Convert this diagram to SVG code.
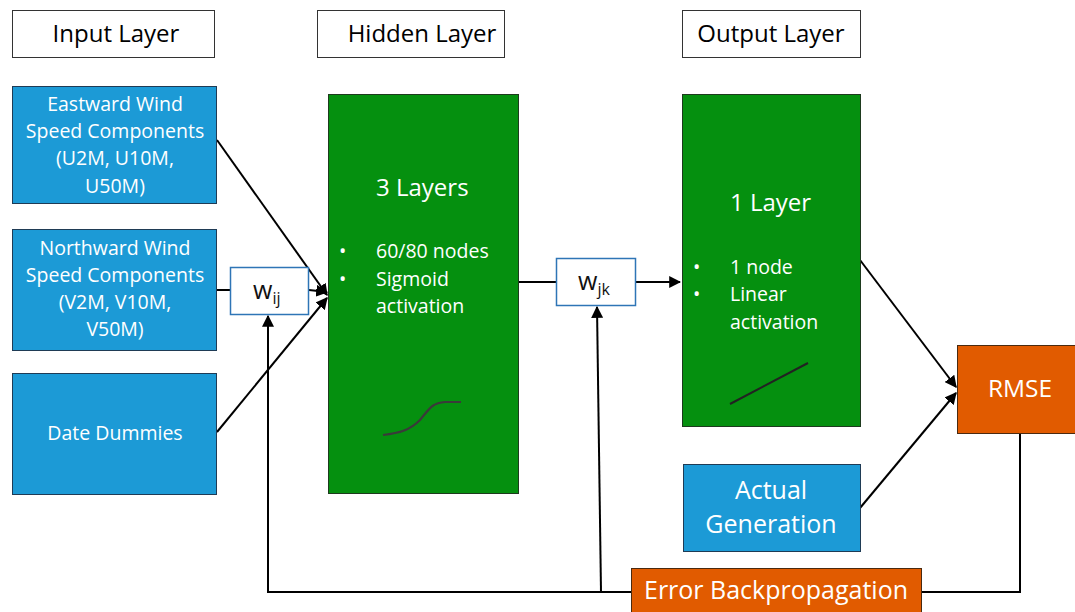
<svg xmlns="http://www.w3.org/2000/svg" width="1075" height="612" viewBox="0 0 1075 612">
<defs>
<style>
.hdr{fill:#fff;stroke:#333;stroke-width:1}
.hdrt{font-family:"Open Sans","Noto Sans",sans-serif;font-size:24px;fill:#000;text-anchor:middle}
.blue{fill:#1c9ad6;stroke:#1f3b55;stroke-width:1}
.green{fill:#05900f;stroke:#1e3a1e;stroke-width:1}
.orange{fill:#e15b00;stroke:#4a2a10;stroke-width:1}
.wt{font-family:"Open Sans","Noto Sans",sans-serif;fill:#fff}
.w{fill:#fff;stroke:#2e75b6;stroke-width:1.5}
.wl{font-family:"Open Sans","Noto Sans",sans-serif;fill:#111}
.c{stroke:#000;stroke-width:2;fill:none}
</style>
<marker id="ah" viewBox="0 0 10 10" refX="9" refY="5" markerWidth="6" markerHeight="6" orient="auto-start-reverse" markerUnits="strokeWidth">
<path d="M0,0 L10,5 L0,10 z" fill="#000"/>
</marker>
</defs>
<rect width="1075" height="612" fill="#fff"/>

<g id="hdr-input"><rect class="hdr" x="12.5" y="10.5" width="202" height="47"/><text class="hdrt" x="116" y="42">Input Layer</text></g>
<g id="hdr-hidden"><rect class="hdr" x="317.5" y="10.5" width="187" height="47"/><text class="hdrt" x="422" y="42">Hidden Layer</text></g>
<g id="hdr-output"><rect class="hdr" x="682.5" y="10.5" width="178" height="47"/><text class="hdrt" x="771" y="42">Output Layer</text></g>

<g id="connectors">
<line class="c" x1="217" y1="140" x2="327" y2="295" marker-end="url(#ah)"/>
<line class="c" x1="217" y1="290" x2="230" y2="290"/>
<line class="c" x1="309" y1="290" x2="327" y2="292" marker-end="url(#ah)"/>
<line class="c" x1="217" y1="432" x2="327" y2="298" marker-end="url(#ah)"/>
<line class="c" x1="519" y1="282" x2="556" y2="282"/>
<line class="c" x1="636" y1="282" x2="680" y2="282" marker-end="url(#ah)"/>
<line class="c" x1="860" y1="260" x2="956" y2="387" marker-end="url(#ah)"/>
<line class="c" x1="860" y1="508" x2="956" y2="393" marker-end="url(#ah)"/>
<polyline class="c" points="1020,433 1020,592 268,592 268,316" marker-end="url(#ah)"/>
<line class="c" x1="601" y1="592" x2="597" y2="307" marker-end="url(#ah)"/>
</g>

<g id="in-east"><rect class="blue" x="12.5" y="86.5" width="204" height="117"/>
<text class="wt" font-size="19.5" text-anchor="middle"><tspan x="115" y="111">Eastward Wind</tspan><tspan x="115" y="138">Speed Components</tspan><tspan x="115" y="165">(U2M, U10M,</tspan><tspan x="115" y="193">U50M)</tspan></text></g>
<g id="in-north"><rect class="blue" x="12.5" y="229.5" width="204" height="121"/>
<text class="wt" font-size="19.5" text-anchor="middle"><tspan x="115" y="255">Northward Wind</tspan><tspan x="115" y="282">Speed Components</tspan><tspan x="115" y="309">(V2M, V10M,</tspan><tspan x="115" y="336">V50M)</tspan></text></g>
<g id="in-date"><rect class="blue" x="12.5" y="373.5" width="204" height="121"/>
<text class="wt" font-size="19.5" text-anchor="middle" x="115" y="440">Date Dummies</text></g>

<g id="wij"><rect class="w" x="230.5" y="267.5" width="78" height="47"/>
<text class="wl" font-size="25" x="253" y="299">w<tspan font-size="16" dy="5">ij</tspan></text></g>

<g id="hidden"><rect class="green" x="328.5" y="94.5" width="190" height="399"/>
<text class="wt" font-size="24" x="376" y="196">3 Layers</text>
<text class="wt" font-size="19.5"><tspan x="339" y="258">•</tspan><tspan x="376" y="258">60/80 nodes</tspan><tspan x="339" y="286">•</tspan><tspan x="376" y="286">Sigmoid</tspan><tspan x="376" y="313">activation</tspan></text>
<path d="M383,435 C400,433 410,430 420,420 C430,408 432,403 445,402 L461,402" stroke="#3a3a3a" stroke-width="2.2" fill="none"/></g>

<g id="wjk"><rect class="w" x="556.5" y="258.5" width="79" height="47"/>
<text class="wl" font-size="25" x="578" y="290">w<tspan font-size="16" dy="5">jk</tspan></text></g>

<g id="output"><rect class="green" x="682.5" y="94.5" width="178" height="332"/>
<text class="wt" font-size="24" x="730" y="211">1 Layer</text>
<text class="wt" font-size="19.5"><tspan x="693" y="274">•</tspan><tspan x="730" y="274">1 node</tspan><tspan x="693" y="301">•</tspan><tspan x="730" y="301">Linear</tspan><tspan x="730" y="329">activation</tspan></text>
<line x1="730" y1="404" x2="808" y2="363" stroke="#222" stroke-width="2"/></g>

<g id="actual"><rect class="blue" x="683.5" y="464.5" width="177" height="87"/>
<text class="wt" font-size="25" text-anchor="middle"><tspan x="771" y="499">Actual</tspan><tspan x="771" y="533">Generation</tspan></text></g>

<g id="rmse"><rect class="orange" x="957.5" y="345.5" width="118" height="88"/>
<text class="wt" font-size="24.5" text-anchor="middle" x="1020" y="397">RMSE</text></g>

<g id="backprop"><rect class="orange" x="631.5" y="568.5" width="290" height="44"/>
<text class="wt" font-size="25" text-anchor="middle" x="776" y="599">Error Backpropagation</text></g>
</svg>
